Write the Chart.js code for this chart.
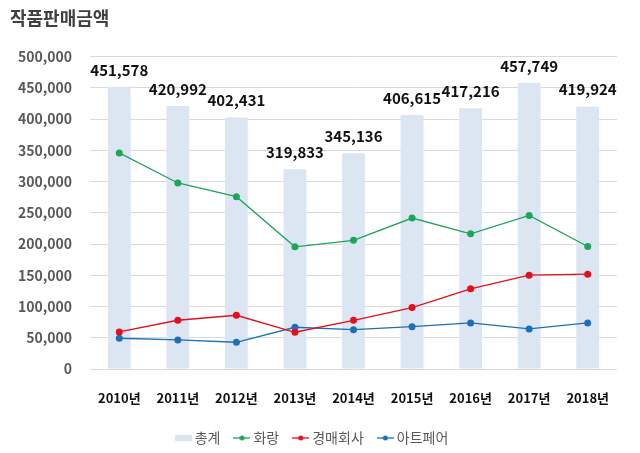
<!DOCTYPE html>
<html lang="ko">
<head>
<meta charset="UTF-8">
<title>작품판매금액</title>
<script src="https://cdn.jsdelivr.net/npm/chart.js@4/dist/chart.umd.min.js"></script>
<style>
    body { margin: 0; background: #fff; }
    canvas { display: block; }
</style>
</head>
<body>
<canvas id="salesChart" width="640" height="453"></canvas>
<script>
// Data
const years = ['2010년', '2011년', '2012년', '2013년', '2014년', '2015년', '2016년', '2017년', '2018년'];
const totals = [451578, 420992, 402431, 319833, 345136, 406615, 417216, 457749, 419924];
const gallery = [345800, 297700, 275800, 195600, 206000, 241600, 216400, 245800, 196100];
const auction = [59300, 78000, 86000, 58800, 78000, 98300, 128300, 150200, 151800];
const artFair = [49200, 46500, 42800, 66800, 63000, 67800, 73700, 64100, 73700];
const yTicks = [0, 50000, 100000, 150000, 200000, 250000, 300000, 350000, 400000, 450000, 500000];

const fontFamily = "'Noto Sans CJK KR', 'Noto Sans', sans-serif";
Chart.defaults.font.family = fontFamily;

const barColor = '#dce6f2';
const greenColor = '#1fa55a';
const redColor = '#e3101c';
const blueColor = '#1d70b7';

// Small pictures for the legend markers
function makeBox(color) {
    let c = document.createElement('canvas');
    c.width = 17;
    c.height = 6;
    let ctx = c.getContext('2d');
    ctx.fillStyle = color;
    ctx.fillRect(0, 0, 17, 6);
    return c;
}

function makeLineDot(color) {
    let c = document.createElement('canvas');
    c.width = 17;
    c.height = 8;
    let ctx = c.getContext('2d');
    ctx.strokeStyle = color;
    ctx.lineWidth = 1.3;
    ctx.beginPath();
    ctx.moveTo(0, 4);
    ctx.lineTo(17, 4);
    ctx.stroke();
    ctx.fillStyle = color;
    ctx.beginPath();
    ctx.arc(8.5, 4, 2.5, 0, Math.PI * 2);
    ctx.fill();
    return c;
}

const legendIcons = [makeBox(barColor), makeLineDot(greenColor), makeLineDot(redColor), makeLineDot(blueColor)];

// Value labels on top of the bars
const barLabels = {
    id: 'barLabels',
    afterDatasetsDraw(chart) {
        const ctx = chart.ctx;
        const meta = chart.getDatasetMeta(0);
        ctx.save();
        ctx.font = 'bold 15px ' + fontFamily;
        ctx.fillStyle = '#111';
        ctx.textAlign = 'center';
        ctx.textBaseline = 'middle';
        meta.data.forEach((bar, i) => {
            ctx.fillText(totals[i].toLocaleString('en-US'), bar.x, bar.y - 17);
        });
        ctx.restore();
    }
};

const lineSet = (label, data, color) => ({
    type: 'line',
    label: label,
    data: data,
    borderColor: color,
    backgroundColor: color,
    borderWidth: 1.3,
    pointRadius: 3.5,
    pointBorderWidth: 0,
    pointBackgroundColor: color,
    tension: 0,
    order: 1
});

const ctx = document.getElementById('salesChart').getContext('2d');
const salesChart = new Chart(ctx, {
    type: 'bar',
    data: {
        labels: years,
        datasets: [
            {
                label: '총계',
                data: totals,
                backgroundColor: barColor,
                barPercentage: 0.39,
                categoryPercentage: 1,
                order: 5
            },
            lineSet('화랑', gallery, greenColor),
            lineSet('경매회사', auction, redColor),
            lineSet('아트페어', artFair, blueColor)
        ]
    },
    options: {
        responsive: false,
        animation: false,
        layout: {
            padding: { left: 10, right: 23, top: 0, bottom: -2 }
        },
        plugins: {
            title: {
                display: true,
                text: '작품판매금액',
                align: 'start',
                color: '#404040',
                font: { size: 18, weight: 'bold' },
                padding: { top: 7, bottom: 28 }
            },
            legend: {
                position: 'bottom',
                labels: {
                    usePointStyle: true,
                    pointStyleWidth: 9,
                    padding: 17,
                    color: '#595959',
                    font: { size: 14 },
                    generateLabels: (chart) => chart.data.datasets.map((ds, i) => ({
                        text: ds.label,
                        pointStyle: legendIcons[i],
                        fontColor: '#595959',
                        lineWidth: 0,
                        hidden: false,
                        datasetIndex: i
                    }))
                }
            },
            tooltip: { enabled: false }
        },
        scales: {
            x: {
                grid: { display: false },
                border: { display: false },
                ticks: {
                    color: '#111',
                    padding: 13,
                    font: { size: 13, weight: 'bold' }
                },
                afterFit: (scale) => { scale.height = 45; }
            },
            y: {
                min: 0,
                max: 500000,
                border: { display: false },
                grid: { color: '#d9d9d9', drawTicks: false },
                afterBuildTicks: (scale) => { scale.ticks = yTicks.map(v => ({ value: v })); },
                afterFit: (scale) => { scale.width = 80; },
                ticks: {
                    color: '#595959',
                    padding: 18,
                    font: { size: 14, weight: 'bold' },
                    callback: (value) => value.toLocaleString('en-US')
                }
            }
        }
    },
    plugins: [barLabels]
});
</script>
</body>
</html>
